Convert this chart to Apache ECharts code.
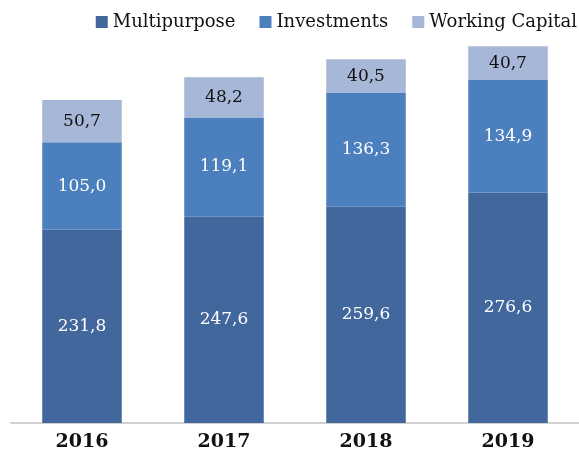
<!DOCTYPE html>
<html>
<head>
<meta charset="utf-8">
<script src="https://cdn.jsdelivr.net/npm/echarts@6/dist/echarts.min.js"></script>
<style>
  html, body { margin: 0; padding: 0; background: #fff; }
  #chart { width: 579px; height: 457px; }
</style>
</head>
<body>
<div id="chart"></div>
<script>
// Funding volumes by purpose, per year
const years = ['2016', '2017', '2018', '2019'];
const multipurpose = [231.8, 247.6, 259.6, 276.6];
const investments = [105.0, 119.1, 136.3, 134.9];
const workingCapital = [50.7, 48.2, 40.5, 40.7];

const serif = '"DejaVu Serif", "Liberation Serif", serif';
const fmt = p => p.value.toFixed(1).replace('.', ',');

function seriesFor(name, data, color, labelColor) {
  return {
    name: name,
    type: 'bar',
    stack: 'total',
    data: data,
    barWidth: '56%',
    itemStyle: { color: color },
    label: {
      show: true,
      position: 'inside',
      formatter: fmt,
      color: labelColor,
      fontFamily: serif,
      fontSize: 17
    }
  };
}

const chart = echarts.init(document.getElementById('chart'), null, { renderer: 'canvas' });
chart.setOption({
  animation: false,
  legend: {
    right: -3,
    top: 8,
    itemWidth: 12,
    itemHeight: 12,
    itemGap: 24,
    icon: 'rect',
    textStyle: { fontFamily: serif, fontSize: 18, color: '#111', padding: [0, 0, 0, 0] }
  },
  grid: { left: 11, right: 0, top: 23, bottom: 34, containLabel: false },
  xAxis: {
    type: 'category',
    data: years,
    axisLine: { lineStyle: { color: '#d0d0d0', width: 2 } },
    axisTick: { show: false },
    axisLabel: {
      fontFamily: serif,
      fontWeight: 'bold',
      fontSize: 19,
      color: '#111',
      margin: 10
    }
  },
  yAxis: {
    type: 'value',
    min: 0,
    max: 480,
    show: false,
    splitLine: { show: false }
  },
  series: [
    seriesFor('Multipurpose', multipurpose, '#41679c', '#ffffff'),
    seriesFor('Investments', investments, '#4b7fbd', '#ffffff'),
    seriesFor('Working Capital', workingCapital, '#a7b7d7', '#111111')
  ]
});
</script>
</body>
</html>
